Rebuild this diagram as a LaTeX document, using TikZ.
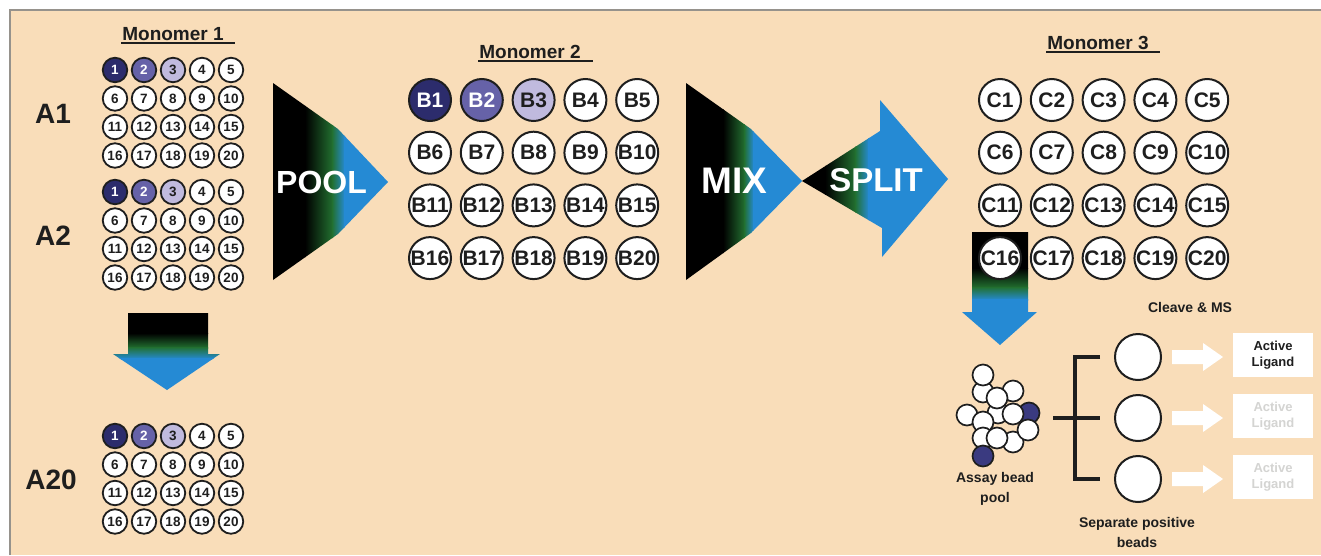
\documentclass[tikz,border=0pt]{standalone}
\usepackage{fontspec}
\setmainfont{Liberation Sans}
\usetikzlibrary{calc}
\definecolor{paper}{RGB}{249,221,185}
\definecolor{frameline}{RGB}{150,146,140}
\definecolor{navy}{RGB}{44,44,108}
\definecolor{violet}{RGB}{102,98,168}
\definecolor{lavender}{RGB}{192,186,222}
\definecolor{beadnavy}{RGB}{58,58,128}
\definecolor{arrowblue}{RGB}{37,138,212}
\definecolor{arrowgreen}{RGB}{34,112,48}
\definecolor{ink}{RGB}{30,30,30}
\definecolor{faded}{RGB}{212,212,210}
\newcommand\px[1]{\fontsize{#1}{#1}\selectfont}

\tikzset{
  smallwell/.style={circle, draw=ink, line width=1.8pt, minimum size=24.5pt, inner sep=0pt,
    fill=white, text=ink, font=\px{13.5}\bfseries},
  bigwell/.style={circle, draw=ink, line width=2pt, minimum size=42pt, inner sep=0pt,
    fill=white, text=ink, font=\px{21}\bfseries},
  tint0/.style={},
  tint1/.style={fill=navy, text=white},
  tint2/.style={fill=violet, text=white},
  tint3/.style={fill=lavender, text=ink},
  title/.style={inner sep=0pt, text=ink, font=\px{19}\bfseries},
  underline/.style={line width=1.5pt, draw=ink},
  rowlabel/.style={inner sep=0pt, text=ink, font=\px{28}\bfseries},
  steplabel/.style={inner sep=0pt, text=white},
  caption/.style={inner sep=0pt, text=ink, align=center, font=\fontsize{14}{19.5}\selectfont\bfseries},
  bead/.style={circle, draw=ink, line width=1.7pt, minimum size=21pt, inner sep=0pt, fill=white},
  darkbead/.style={bead, fill=beadnavy},
  posbead/.style={circle, draw=ink, line width=2pt, minimum size=46pt, inner sep=0pt, fill=white},
  ligand/.style={rectangle, fill=white, minimum width=80pt, minimum height=44pt, inner sep=0pt,
    align=center, font=\fontsize{13}{16}\selectfont\bfseries},
  bracket/.style={line width=4pt, draw=ink},
}

% 4x5 plate of small numbered wells: name prefix, left x, top y
\newcommand\plate[3]{%
  \foreach \prow in {0,...,3}{%
    \foreach \pcol in {1,...,5}{%
      \pgfmathtruncatemacro\pidx{\prow*5+\pcol}%
      \pgfmathtruncatemacro\ptint{\pidx<4 ? \pidx : 0}%
      \node[smallwell, tint\ptint] (#1-\pidx) at ({#2+(\pcol-1)*29},{#3+\prow*28.5}) {\pidx};
    }%
  }%
}
% 4x5 grid of large wells: letter, left x, top y, first untinted index
\newcommand\bigplate[4]{%
  \foreach \prow in {0,...,3}{%
    \foreach \pcol in {1,...,5}{%
      \pgfmathtruncatemacro\pidx{\prow*5+\pcol}%
      \pgfmathtruncatemacro\ptint{\pidx<#4 ? \pidx : 0}%
      \node[bigwell, tint\ptint] (#1\pidx) at ({#2+(\pcol-1)*51.8},{#3+\prow*52.7}) {#1\pidx};
    }%
  }%
}

\begin{document}
\begin{tikzpicture}[x=1pt, y=-1pt]
\useasboundingbox (0,0) rectangle (1321,555);
\fill[white] (0,0) rectangle (1321,555);
\fill[paper] (10,10) rectangle (1321,555);
\draw[frameline, line width=1.5pt] (10,555) -- (10,10) -- (1321,10);

% ---------- Monomer 1 ----------
\node[title] (m1) at (173,34) {Monomer 1};
\draw[underline] ($(m1.south west)+(-1,2)$) -- ($(m1.south east)+(11,2)$);
\plate{a1}{115}{70}
\plate{a2}{115}{192}
\plate{a20}{115}{436}
\node[rowlabel] (la1) at (53,114) {A1};
\node[rowlabel] (la2) at (53,236) {A2};
\node[rowlabel] (la20) at (51,480) {A20};

% down arrow between the plates
\begin{scope}
  \clip (128,313) -- (208,313) -- (208,354) -- (220,354) -- (167,390) -- (113,354) -- (128,354) -- cycle;
  \fill[black] (110,310) rectangle (223,334);
  \shade[top color=black, bottom color=arrowgreen] (110,333) rectangle (223,348);
  \shade[top color=arrowgreen, bottom color=arrowblue] (110,347) rectangle (223,359);
  \fill[arrowblue] (110,358) rectangle (223,392);
\end{scope}

% ---------- POOL ----------
\begin{scope}
  \clip (273,83) -- (338,129) -- (388,182) -- (338,234) -- (273,280) -- cycle;
  \fill[black] (270,80) rectangle (306,285);
  \shade[left color=black, right color=arrowgreen] (305,80) rectangle (333,285);
  \shade[left color=arrowgreen, right color=arrowblue] (332,80) rectangle (345,285);
  \fill[arrowblue] (344,80) rectangle (392,285);
\end{scope}
\node[steplabel, font=\px{32}\bfseries] (pool-txt) at (321.5,182) {POOL};

% ---------- Monomer 2 ----------
\node[title] (m2) at (530,52) {Monomer 2};
\draw[underline] ($(m2.south west)+(-1,2)$) -- ($(m2.south east)+(12,2)$);
\bigplate{B}{430}{100}{4}

% ---------- MIX ----------
\begin{scope}
  \clip (686,83) -- (751,129) -- (802,181) -- (751,233) -- (686,280) -- cycle;
  \fill[black] (683,80) rectangle (724,285);
  \shade[left color=black, right color=arrowgreen] (723,80) rectangle (745,285);
  \shade[left color=arrowgreen, right color=arrowblue] (744,80) rectangle (754,285);
  \fill[arrowblue] (753,80) rectangle (806,285);
\end{scope}
\node[steplabel, font=\px{37}\bfseries] (mix-txt) at (734.5,181) {MIX};

% ---------- SPLIT ----------
\begin{scope}
  \clip (802,181) -- (880,131) -- (880,100) -- (948,179) -- (882,257) -- (882,228) -- cycle;
  \fill[black] (800,95) rectangle (826,262);
  \shade[left color=black, right color=arrowgreen] (825,95) rectangle (856,262);
  \shade[left color=arrowgreen, right color=arrowblue] (855,95) rectangle (869,262);
  \fill[arrowblue] (868,95) rectangle (952,262);
\end{scope}
\node[steplabel, font=\px{33}\bfseries] (split-txt) at (876,180) {SPLIT};

% ---------- Monomer 3 ----------
\node[title] (m3) at (1098,43) {Monomer 3};
\draw[underline] ($(m3.south west)+(-1,2)$) -- ($(m3.south east)+(11,2)$);

% down arrow from C16 to the bead pool
\begin{scope}
  \clip (972,232) -- (1028,232) -- (1028,312) -- (1037,312) -- (1000,345) -- (962,312) -- (972,312) -- cycle;
  \fill[black] (960,230) rectangle (1040,269);
  \shade[top color=black, bottom color=arrowgreen] (960,268) rectangle (1040,288);
  \shade[top color=arrowgreen, bottom color=arrowblue] (960,287) rectangle (1040,300);
  \fill[arrowblue] (960,299) rectangle (1040,348);
\end{scope}
\bigplate{C}{1000}{100}{1}

% ---------- assay bead pool ----------
\coordinate (pool) at (998,415);
\foreach \dx/\dy/\kind [count=\i] in {0/-2/bead, -15/-23/bead, 15/-24/bead, -15/-40/bead,
    -1/-17/bead, 31/-2/darkbead, 15/-1/bead, -31/0/bead, -15/7/bead, 15/27/bead,
    -15/23/bead, 30/15/bead, -1/23/bead, -15/41/darkbead}
  \node[\kind] (bead\i) at ($(pool)+(\dx,\dy)$) {};
\node[caption] (pool-cap) at (995,489) {Assay bead\\pool};

% ---------- positive beads, cleavage and MS ----------
\node[posbead] (pb1) at (1138,357) {};
\node[posbead] (pb2) at (1138,418) {};
\node[posbead] (pb3) at (1138,479) {};
\draw[bracket] ($(pool)+(55,3)$) -- ($(pb2.west)+(-14,0)$);
\draw[bracket] ($(pb1.west)+(-14,0)$) -- ($(pb1.west)+(-39,0)$)
  -- ($(pb3.west)+(-39,0)$) -- ($(pb3.west)+(-14,0)$);
\node[caption] (sep-cap) at (1137,532.5) {Separate positive\\beads};
\node[caption] (cleave-cap) at (1190,307) {Cleave \& MS};

\node[ligand, text=ink] (lig1) at (1273,355) {Active\\Ligand};
\node[ligand, text=faded] (lig2) at (1273,416) {Active\\Ligand};
\node[ligand, text=faded] (lig3) at (1273,477) {Active\\Ligand};

\foreach \k in {1,2,3}
  \fill[white] ($(pb\k.east)+(10,-7)$) -- ++(31,0) -- ++(0,-7) -- ++(20,14)
    -- ++(-20,14) -- ++(0,-7) -- ++(-31,0) -- cycle;
\end{tikzpicture}
\end{document}
